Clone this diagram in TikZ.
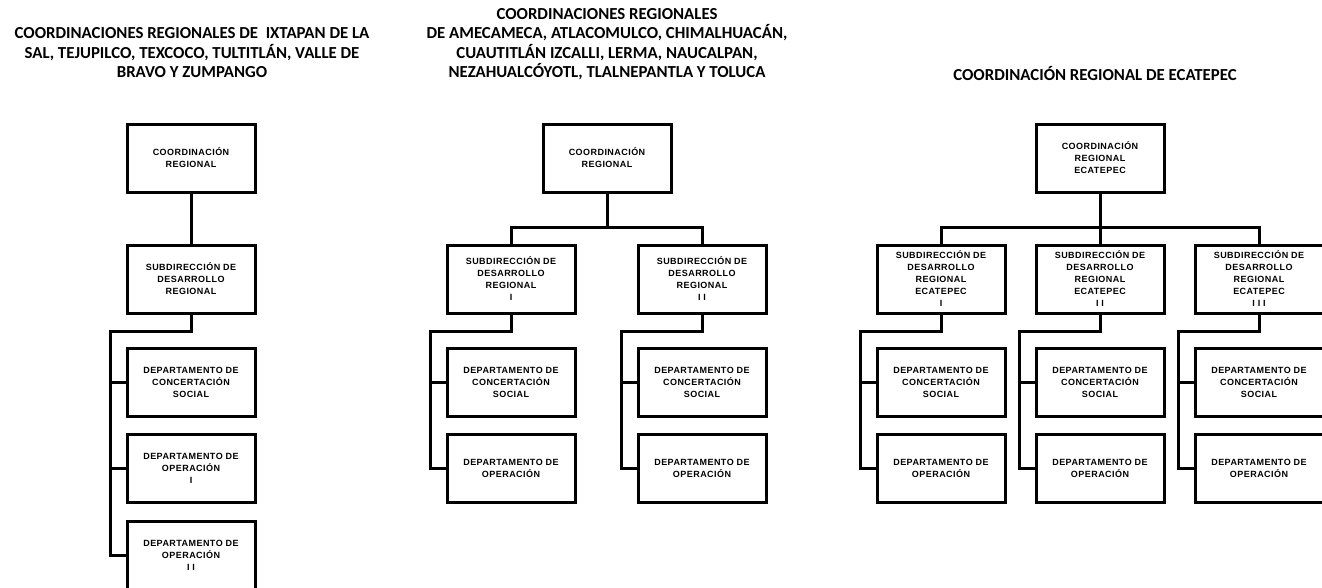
\documentclass[tikz,border=0pt]{standalone}
\usepackage{fontspec}
\setmainfont{Liberation Sans}
\newfontfamily\boxfont{Liberation Sans}[LetterSpace=5]
\newfontfamily\titlefont{Carlito}
\usetikzlibrary{calc}
\begin{document}
\begin{tikzpicture}[x=1pt,y=-1pt,
  orgbox/.style={draw, line width=3pt, minimum width=128pt, minimum height=68pt, inner sep=1pt,
    align=center, font=\boxfont\bfseries\fontsize{9}{12}\selectfont},
  link/.style={line width=3pt},
  ttl/.style={align=center, font=\titlefont\bfseries\fontsize{16.8}{19.5}\selectfont}]
\useasboundingbox (0,0) rectangle (1322,587);
\clip (0,0) rectangle (1322,587);
% titles
\node[ttl] (t1) at (192,53) {COORDINACIONES REGIONALES DE \ IXTAPAN DE LA\\SAL, TEJUPILCO, TEXCOCO, TULTITLÁN, VALLE DE\\BRAVO Y ZUMPANGO};
\node[ttl] (t2) at (607,44) {COORDINACIONES REGIONALES\\DE AMECAMECA, ATLACOMULCO, CHIMALHUACÁN,\\CUAUTITLÁN IZCALLI, LERMA, NAUCALPAN,\\NEZAHUALCÓYOTL, TLALNEPANTLA Y TOLUCA};
\node[ttl] (t3) at (1095,73) {COORDINACIÓN REGIONAL DE ECATEPEC};
% left column
\node[orgbox] (L1) at (191,158) {COORDINACIÓN\\REGIONAL};
\node[orgbox] (L2) at (191,279) {SUBDIRECCIÓN DE\\DESARROLLO\\REGIONAL};
\node[orgbox] (L3) at (191,382) {DEPARTAMENTO DE\\CONCERTACIÓN\\SOCIAL};
\node[orgbox] (L4) at (191,468.5) {DEPARTAMENTO DE\\OPERACIÓN\\I};
\node[orgbox] (L5) at (191,555) {DEPARTAMENTO DE\\OPERACIÓN\\I I};
\draw[link] (L1) -- (L2);
\draw[link] (L2.south) -- ++(0,17) -| ([xshift=-15pt]L5.west) -- (L5.west);
\draw[link] ([xshift=-15pt]L3.west) -- (L3.west);
\draw[link] ([xshift=-15pt]L4.west) -- (L4.west);
% middle column
\node[orgbox] (M1) at (607,158) {COORDINACIÓN\\REGIONAL};
\node[orgbox] (M2) at (511,279) {SUBDIRECCIÓN DE\\DESARROLLO\\REGIONAL\\I};
\node[orgbox] (M3) at (702,279) {SUBDIRECCIÓN DE\\DESARROLLO\\REGIONAL\\I I};
\node[orgbox] (M4) at (511,382) {DEPARTAMENTO DE\\CONCERTACIÓN\\SOCIAL};
\node[orgbox] (M5) at (511,468.5) {DEPARTAMENTO DE\\OPERACIÓN};
\node[orgbox] (M6) at (702,382) {DEPARTAMENTO DE\\CONCERTACIÓN\\SOCIAL};
\node[orgbox] (M7) at (702,468.5) {DEPARTAMENTO DE\\OPERACIÓN};
\coordinate (mbar) at (607,227);
\draw[link] (M1.south) -- (mbar);
\draw[link] (M2.north) |- (mbar) -| (M3.north);
\draw[link] (M2.south) -- ++(0,17) -| ([xshift=-15pt]M5.west) -- (M5.west);
\draw[link] ([xshift=-15pt]M4.west) -- (M4.west);
\draw[link] (M3.south) -- ++(0,17) -| ([xshift=-15pt]M7.west) -- (M7.west);
\draw[link] ([xshift=-15pt]M6.west) -- (M6.west);
% right column
\node[orgbox] (R1) at (1100,158) {COORDINACIÓN\\REGIONAL\\ECATEPEC};
\node[orgbox] (R2) at (941,279) {SUBDIRECCIÓN DE\\DESARROLLO\\REGIONAL\\ECATEPEC\\I};
\node[orgbox] (R3) at (1100,279) {SUBDIRECCIÓN DE\\DESARROLLO\\REGIONAL\\ECATEPEC\\I I};
\node[orgbox] (R4) at (1259,279) {SUBDIRECCIÓN DE\\DESARROLLO\\REGIONAL\\ECATEPEC\\I I I};
\node[orgbox] (R5) at (941,382) {DEPARTAMENTO DE\\CONCERTACIÓN\\SOCIAL};
\node[orgbox] (R6) at (941,468.5) {DEPARTAMENTO DE\\OPERACIÓN};
\node[orgbox] (R7) at (1100,382) {DEPARTAMENTO DE\\CONCERTACIÓN\\SOCIAL};
\node[orgbox] (R8) at (1100,468.5) {DEPARTAMENTO DE\\OPERACIÓN};
\node[orgbox] (R9) at (1259,382) {DEPARTAMENTO DE\\CONCERTACIÓN\\SOCIAL};
\node[orgbox] (R10) at (1259,468.5) {DEPARTAMENTO DE\\OPERACIÓN};
\coordinate (rbar) at (1100,227);
\draw[link] (R1.south) -- (R3.north);
\draw[link] (R2.north) |- (rbar) -| (R4.north);
\draw[link] (R2.south) -- ++(0,17) -| ([xshift=-15pt]R6.west) -- (R6.west);
\draw[link] ([xshift=-15pt]R5.west) -- (R5.west);
\draw[link] (R3.south) -- ++(0,17) -| ([xshift=-15pt]R8.west) -- (R8.west);
\draw[link] ([xshift=-15pt]R7.west) -- (R7.west);
\draw[link] (R4.south) -- ++(0,17) -| ([xshift=-15pt]R10.west) -- (R10.west);
\draw[link] ([xshift=-15pt]R9.west) -- (R9.west);
\end{tikzpicture}
\end{document}
